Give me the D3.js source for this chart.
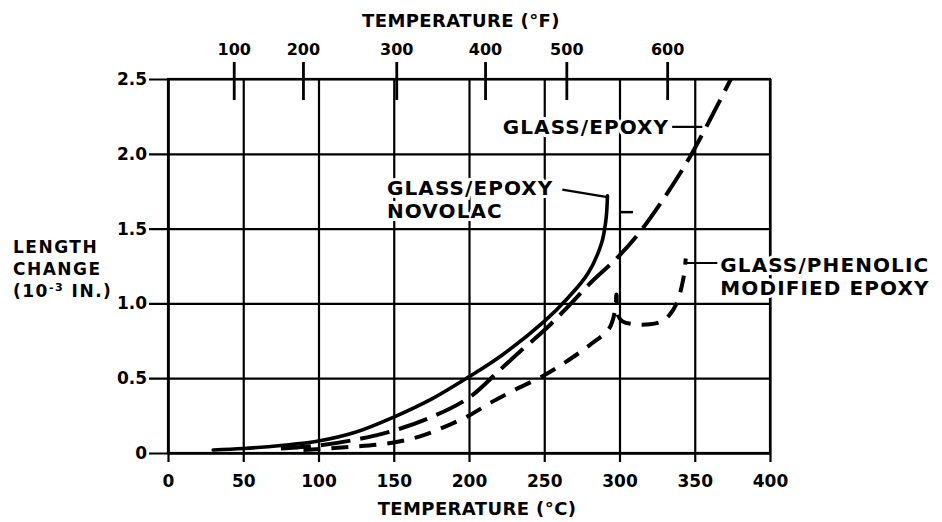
<!DOCTYPE html>
<html>
<head>
<meta charset="utf-8">
<script src="https://cdnjs.cloudflare.com/ajax/libs/d3/7.8.5/d3.min.js"></script>
<style>
body { margin: 0; background: #fff; }
svg text { font-family: "DejaVu Sans", sans-serif; font-weight: bold; fill: #000; }
</style>
</head>
<body>
<svg width="942" height="522"></svg>
<script>
// temperature (deg C) vs length change (10^-3 in.)
var novolacTemp = [30, 50, 75, 100, 125, 150, 175, 200, 220, 250, 266, 279, 288, 291, 292];
var novolacLen  = [0.02, 0.03, 0.05, 0.08, 0.14, 0.24, 0.36, 0.51, 0.64, 0.88, 1.04, 1.20, 1.40, 1.56, 1.72];

var epoxyTemp = [75, 100, 125, 150, 175, 200, 220, 233, 250, 264, 281, 298, 313, 332, 348, 374];
var epoxyLen  = [0.03, 0.05, 0.09, 0.15, 0.24, 0.37, 0.55, 0.67, 0.82, 0.96, 1.14, 1.30, 1.47, 1.74, 2.00, 2.50];

var phenolicTemp = [90, 120, 150, 170, 185, 200, 215, 230, 250, 266, 280, 293, 297, 298, 299, 302, 310, 320, 328, 333, 338, 341, 343, 344];
var phenolicLen  = [0.02, 0.04, 0.07, 0.12, 0.18, 0.25, 0.34, 0.42, 0.52, 0.62, 0.72, 0.83, 0.95, 1.06, 0.92, 0.88, 0.86, 0.86, 0.88, 0.92, 1.00, 1.10, 1.20, 1.30];

var xTicks = [0, 50, 100, 150, 200, 250, 300, 350, 400];
var yTicks = [0, 0.5, 1.0, 1.5, 2.0, 2.5];

// the deg F scale on top is hand drawn, so keep where each tick sits in deg C
var fLabels = [100, 200, 300, 400, 500, 600];
var fTickAtC = [44, 90, 152, 211, 265, 332];

var svg = d3.select("svg"),
	margin = {top: 79, right: 172, bottom: 69, left: 168},
	width = +svg.attr("width") - margin.left - margin.right,
	height = +svg.attr("height") - margin.top - margin.bottom,
	g = svg.append("g").attr("transform", "translate(" + margin.left + "," + margin.top + ")");

var x = d3.scaleLinear().domain([0, 400]).range([0, width]);
var y = d3.scaleLinear().domain([0, 2.5]).range([height, 0]);

var line = d3.line()
	.x(function(d) { return x(d[0]); })
	.y(function(d) { return y(d[1]); })
	.curve(d3.curveCatmullRom.alpha(0.5));

function pairs(a, b) { return a.map(function(v, i) { return [v, b[i]]; }); }

// bottom axis + vertical grid
var xa = g.append("g")
	.attr("transform", "translate(0," + height + ")")
	.call(d3.axisBottom(x).tickValues(xTicks).tickSize(-height).tickSizeOuter(0).tickPadding(22));
xa.selectAll(".tick line").attr("y1", 9);

// left axis + horizontal grid
var ya = g.append("g")
	.call(d3.axisLeft(y).tickValues(yTicks).tickSize(-width).tickSizeOuter(0).tickPadding(21)
		.tickFormat(function(d) { return d === 0 ? "0" : d3.format(".1f")(d); }));
ya.selectAll(".tick line").attr("x1", -19);

[xa, ya].forEach(function(a) {
	a.attr("font-family", null).attr("font-size", 17);
	a.selectAll("line, path").attr("stroke", "#000").attr("stroke-width", 2.2);
	a.selectAll("text").attr("fill", "#000");
});

g.append("rect")
	.attr("width", width)
	.attr("height", height)
	.attr("fill", "none")
	.attr("stroke", "#000")
	.attr("stroke-width", 2.2);

// top deg F ticks
g.selectAll(".ftick")
	.data(fTickAtC)
	.enter().append("line")
	.attr("class", "ftick")
	.attr("x1", function(d) { return x(d); })
	.attr("x2", function(d) { return x(d); })
	.attr("y1", -17)
	.attr("y2", 21)
	.attr("stroke", "#000")
	.attr("stroke-width", 2.8);

g.selectAll(".flabel")
	.data(fTickAtC)
	.enter().append("text")
	.attr("class", "flabel")
	.attr("x", function(d) { return x(d); })
	.attr("y", -24)
	.attr("text-anchor", "middle")
	.attr("font-size", 16)
	.text(function(d, i) { return fLabels[i]; });

// curves
g.append("path")
	.datum(pairs(novolacTemp, novolacLen))
	.attr("fill", "none")
	.attr("stroke", "#000")
	.attr("stroke-width", 3.6)
	.attr("stroke-linecap", "round")
	.attr("d", line);

g.append("path")
	.datum(pairs(epoxyTemp, epoxyLen))
	.attr("fill", "none")
	.attr("stroke", "#000")
	.attr("stroke-width", 4)
	.attr("stroke-dasharray", "30,10")
	.attr("d", line);

g.append("path")
	.datum(pairs(phenolicTemp, phenolicLen))
	.attr("fill", "none")
	.attr("stroke", "#000")
	.attr("stroke-width", 4)
	.attr("stroke-dasharray", "17,11")
	.attr("d", line);

// stray tick next to the top of the novolac curve
g.append("line")
	.attr("x1", x(300)).attr("x2", x(309))
	.attr("y1", y(1.61)).attr("y2", y(1.61))
	.attr("stroke", "#000").attr("stroke-width", 2.5);

// labels with leaders
var notes = [
	{lines: ["GLASS/EPOXY"], at: [333, 2.18], anchor: "end", from: [335, 2.18], to: [355, 2.18]},
	{lines: ["GLASS/EPOXY", "NOVOLAC"], at: [145.5, 1.77], anchor: "start", from: [262, 1.76], to: [292, 1.71]},
	{lines: ["GLASS/PHENOLIC", "MODIFIED EPOXY"], at: [367, 1.26], anchor: "start", from: [344, 1.27], to: [365, 1.27]}
];

notes.forEach(function(n) {
	g.append("line")
		.attr("x1", x(n.from[0])).attr("y1", y(n.from[1]))
		.attr("x2", x(n.to[0])).attr("y2", y(n.to[1]))
		.attr("stroke", "#000").attr("stroke-width", 2.2);
	var t = g.append("text")
		.attr("x", x(n.at[0]))
		.attr("y", y(n.at[1]))
		.attr("text-anchor", n.anchor)
		.attr("font-size", 20)
		.attr("letter-spacing", 1.1)
		.attr("stroke", "#fff")
		.attr("stroke-width", 6)
		.attr("paint-order", "stroke");
	n.lines.forEach(function(s, i) {
		t.append("tspan")
			.attr("x", x(n.at[0]))
			.attr("dy", i === 0 ? "0.36em" : "1.15em")
			.text(s);
	});
});

// axis titles
svg.append("text")
	.attr("x", 461).attr("y", 27)
	.attr("text-anchor", "middle")
	.attr("font-size", 18)
	.attr("letter-spacing", 0.4)
	.text("TEMPERATURE (°F)");

svg.append("text")
	.attr("x", 477).attr("y", 515)
	.attr("text-anchor", "middle")
	.attr("font-size", 18)
	.attr("letter-spacing", 0.4)
	.text("TEMPERATURE (°C)");

var yl = svg.append("text")
	.attr("x", 13).attr("y", 253)
	.attr("font-size", 17)
	.attr("letter-spacing", 1.5);
yl.append("tspan").attr("x", 13).text("LENGTH");
yl.append("tspan").attr("x", 13).attr("dy", 22).text("CHANGE");
yl.append("tspan").attr("x", 13).attr("dy", 22).text("(10");
yl.append("tspan").attr("dy", -6).attr("font-size", 11).text("-3");
yl.append("tspan").attr("dy", 6).text(" IN.)");
</script>
</body>
</html>
